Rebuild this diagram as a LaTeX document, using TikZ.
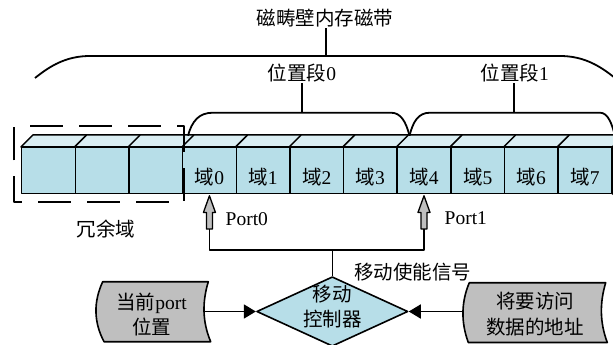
\documentclass[tikz,border=0pt]{standalone}
\usepackage{fontspec}
\setmainfont{Liberation Serif}
\newfontfamily\cjk{Noto Sans CJK SC}
\newcommand\zh[1]{{\cjk #1}}
\usetikzlibrary{arrows.meta,shapes.geometric}
\definecolor{tapefront}{RGB}{183,222,232}
\definecolor{tapetop}{RGB}{218,238,243}
\definecolor{tapeside}{RGB}{146,205,220}
\definecolor{boxgray}{RGB}{191,191,191}

\begin{document}
\begin{tikzpicture}[x=1pt,y=-1pt,line join=round,
  lbl/.style={font=\fontsize{19.5}{25.5}\selectfont,inner sep=1pt,align=center},
  edge/.style={line width=1.6pt},
  brace/.style={line width=1.8pt},
  cellface/.style={draw,line width=1.5pt,fill=tapefront,inner sep=0pt,
    minimum width=53.64pt,minimum height=45.6pt},
  celltop/.style={draw,line width=1.5pt,fill=tapetop},
  tip/.style={-{Triangle[length=12pt,width=14pt]}},
  ctlbox/.style={diamond,draw,line width=1.6pt,fill=tapefront,inner sep=0pt,
    minimum width=151.3pt,minimum height=69.6pt},
  storebox/.style={draw,line width=1.6pt,fill=boxgray},
  portarrow/.style={draw,line width=1.3pt,fill=boxgray},
  redund/.style={draw,line width=2pt,dash pattern=on 33pt off 16pt,dash phase=33pt}
]
\useasboundingbox (0,0) rectangle (613,345);
\clip (0,0) rectangle (613,345);

% ---- the tape: 3 spare cells followed by 8 domains ----
\foreach \i in {0,...,10} {
  \pgfmathsetmacro\xc{21.7+53.64*\i+26.82}
  \node[cellface] (cell\i) at (\xc,170.5) {};
  \draw[celltop] (cell\i.north west) -- ++(12,-12)
     -- ([shift={(12,-12)}]cell\i.north east) -- (cell\i.north east) -- cycle;
}
\draw[celltop,fill=tapeside] (cell10.north east) -- ++(12,-12) -- ++(0,45.6)
  -- (cell10.south east) -- cycle;
\foreach \k [evaluate=\k as \j using int(\k+3)] in {0,...,7}
  \node[lbl] (dom\k) at ([yshift=-7pt]cell\j.center) {\zh{域}\k};

% spare cells frame and its label
\draw[redund] (14,126) -- (184,126) -- (184,201.7) -- (14,201.7) -- cycle;
\node[lbl] (spare) at (106,229) {\zh{冗余域}};

% ---- braces over the tape ----
\node[lbl] (tape) at (325,18) {\zh{磁畴壁内存磁带}};
\coordinate (btop) at (326.3,56);
\draw[brace] (35,78) .. controls (50,66) and (66,56) .. (90,56) -- (560,56)
  .. controls (584,56) and (600,66) .. (615,78);
\draw[brace] (tape.south -| btop) -- (btop);

\node[lbl] (seg0) at (302,73) {\zh{位置段}0};
\node[lbl] (seg1) at (514.7,73) {\zh{位置段}1};
\coordinate (b0) at (301.7,112.7);
\coordinate (b1) at (513.7,112.7);
\draw[brace] (188,135.7) .. controls (192,121) and (199,112.7) .. (213,112.7)
  -- (391,112.7) .. controls (401,112.7) and (406,122) .. (409.5,135.7);
\draw[brace] (409.5,135.7) .. controls (413,122) and (418,112.7) .. (430,112.7)
  -- (600,112.7) .. controls (608,112.7) and (612,124) .. (615,136);
\draw[brace] (seg0.south -| b0) -- (b0);
\draw[brace] (seg1.south -| b1) -- (b1);

% ---- read/write ports ----
\foreach \n/\j in {0/3,1/7} {
  \draw[portarrow] ([yshift=-1.7pt]cell\j.south) -- ++(6,16.7) -- ++(-3,0)
    -- ++(0,16.6) -- ++(-6,0) -- ++(0,-16.6) -- ++(-3,0) -- cycle;
  \coordinate (pb\n) at ([yshift=-35pt]cell\j.south);
}
\node[lbl,anchor=west] (lp0) at (224.5,219.3) {Port0};
\node[lbl,anchor=west] (lp1) at (443.5,218.3) {Port1};

% ---- shift controller ----
\node[ctlbox] (ctl) at (332.3,311.5) {};
\node[lbl] (ctltext) at ([yshift=4.8pt]ctl.center) {\zh{移动}\\\zh{控制器}};
\coordinate (bus) at (ctl.north |- 0,250);
\draw[edge] (pb0) |- (bus) -| (pb1);
\draw[edge] (bus) -- (ctl.north);
\node[lbl] (sig) at (412.5,271.7) {\zh{移动使能信号}};

% current port position
\draw[storebox] (102.7,281.7) -- (208.3,281.7)
  .. controls (202.2,301.7) and (202.2,321.7) .. (210.7,341.7) -- (104,341.7)
  .. controls (93.5,321.7) and (93.5,301.7) .. (102.7,281.7) -- cycle;
\node[lbl,minimum width=105pt] (cur) at (151.5,314.3) {\zh{当前}port\\\zh{位置}};

% target address
\draw[storebox] (469.3,282.7) -- (605.7,282.7)
  .. controls (599.7,302.5) and (599.7,322.5) .. (607.3,342.5) -- (468.3,342.5)
  .. controls (461,322.5) and (461,302.5) .. (469.3,282.7) -- cycle;
\node[lbl,minimum width=144.6pt] (addr) at (535,314.2) {\zh{将要访问}\\\zh{数据的地址}};

\draw[edge,tip] (cur.east |- ctl.west) -- (ctl.west);
\draw[edge,tip] (addr.west |- ctl.east) -- (ctl.east);
\end{tikzpicture}
\end{document}
